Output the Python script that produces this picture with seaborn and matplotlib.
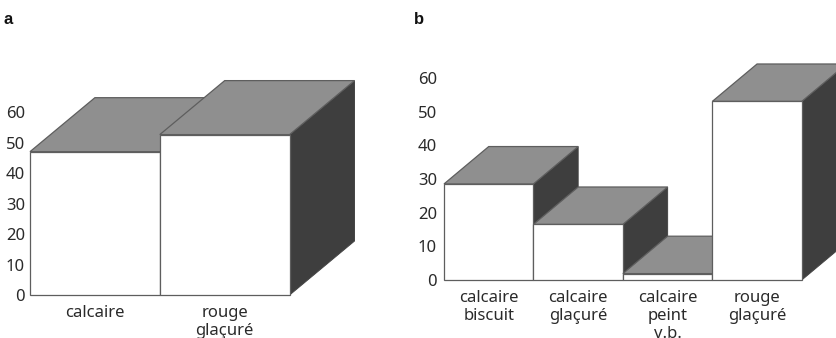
import matplotlib
matplotlib.use("Agg")
import matplotlib.pyplot as plt
import seaborn as sns
import pandas as pd
from matplotlib.patches import Polygon

cats_a = ["calcaire", "rouge\nglaçuré"]
vals_a = [47, 52.6]
cats_b = ["calcaire\nbiscuit", "calcaire\nglaçuré", "calcaire\npeint\nv.b.", "rouge\nglaçuré"]
vals_b = [28.5, 16.5, 1.9, 53]
ticks = [0, 10, 20, 30, 40, 50, 60]

W, H = 836, 338
sns.set_style("white")
plt.rcParams["font.family"] = ["Noto Sans", "DejaVu Sans"]
TEXT = "#2a2a2a"
EDGE = "#5e5e5e"
TOP = "#8f8f8f"
SIDE = "#3e3e3e"

fig = plt.figure(figsize=(W / 100, H / 100), dpi=100)


def panel(cats, vals, box, ymax, depth_y, tickx_pad):
    x0, x1, ytop, ybase = box
    ax = fig.add_axes([x0 / W, 1 - ybase / H, (x1 - x0) / W, (ybase - ytop) / H])
    ax.patch.set_alpha(0)
    df = pd.DataFrame({"cat": cats, "val": vals})
    sns.barplot(data=df, x="cat", y="val", width=1, color="white", saturation=1,
                edgecolor=EDGE, linewidth=0.9, ax=ax)
    depth_x = 0.5
    for i, (bar, v) in enumerate(zip(ax.patches, vals)):
        bar.set_zorder(3 * i + 4)
        bar.set_clip_on(False)
        l, r = bar.get_x(), bar.get_x() + bar.get_width()
        ax.add_patch(Polygon([(l, v), (r, v), (r + depth_x, v + depth_y), (l + depth_x, v + depth_y)],
                             closed=True, fc=TOP, ec=EDGE, lw=0.9, zorder=3 * i + 3, clip_on=False))
        ax.add_patch(Polygon([(r, 0), (r, v), (r + depth_x, v + depth_y), (r + depth_x, depth_y)],
                             closed=True, fc=SIDE, ec="#444444", lw=0.7, zorder=3 * i + 2, clip_on=False))
    ax.set_xlim(-0.5, len(cats) - 0.5 + depth_x)
    ax.set_ylim(0, ymax)
    ax.set_yticks(ticks)
    ax.set_xticks(range(len(cats)))
    ax.set_xticklabels(cats, linespacing=1.17)
    ax.tick_params(axis="both", length=0, labelsize=12, labelcolor=TEXT)
    ax.tick_params(axis="y", pad=tickx_pad)
    ax.tick_params(axis="x", pad=7.5)
    ax.set_xlabel("")
    ax.set_ylabel("")
    sns.despine(ax=ax, left=True, bottom=True)
    return ax


panel(cats_a, vals_a, (30, 354.5, 80, 295), 70.5, 17.7, 3.5)
panel(cats_b, vals_b, (444, 846.5, 65, 280), 63.8, 11.1, 5)

for x, letter in [(4, "a"), (414, "b")]:
    fig.text(x / W, 1 - 24 / H, letter, fontsize=12, fontweight="bold",
             family="Liberation Sans", color="#111111")

fig.savefig("out.png", dpi=100)
